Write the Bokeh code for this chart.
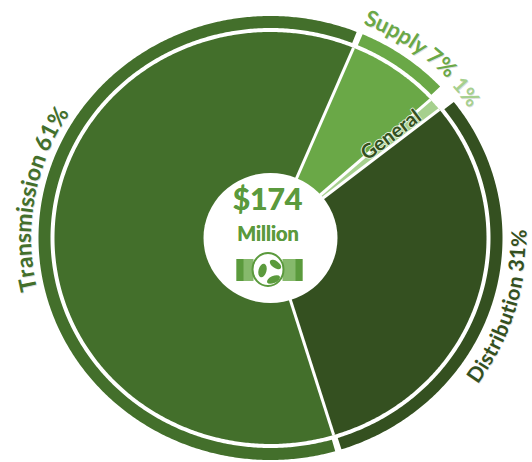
import math
from bokeh.core.properties import value
from bokeh.embed import file_html
from bokeh.models import ColumnDataSource
from bokeh.plotting import figure
from bokeh.resources import INLINE

# Budget split
segments = ["Transmission", "Supply", "General", "Distribution"]
shares = [61, 7, 1, 31]
fills = ["#436F2B", "#6AA847", "#A6D08E", "#345020"]
ring_segments = ["Transmission", "Supply", "Distribution"]
total_label = "$174"
unit_label = "Million"

CX, CY = 270, 237.5
RING_OUT = (232, 222)
RING_IN = (220, 210)
PIE = (216, 206)
HUB = (67, 65)
START = 163.0

FONT = "Lato"
WIDTHS = {"T": .58, "r": .39, "a": .52, "n": .57, "s": .43, "m": .84, "i": .26, "o": .58,
          " ": .22, "6": .58, "1": .58, "%": .82, "S": .52, "u": .57, "p": .57, "l": .26,
          "y": .52, "7": .58, "D": .73, "t": .37, "b": .57, "3": .58}
HUB_GREEN = "#5B9A3D"


def pt(t, rx, ry):
    a = math.radians(t)
    return CX + rx * math.sin(a), CY - ry * math.cos(a)


def band(a0, a1, outer, inner=None):
    n = max(3, int(abs(a1 - a0) * 2))
    ts = [a0 + (a1 - a0) * i / n for i in range(n + 1)]
    pts = [pt(t, *outer) for t in ts]
    if inner:
        pts += [pt(t, *inner) for t in reversed(ts)]
    else:
        pts.append((CX, CY))
    return [q[0] for q in pts], [q[1] for q in pts]


def lifted(x, y, ang, size):
    """Move a baseline point to the letter's mid-height, for middle-anchored text."""
    k = 0.36 * size
    return x - math.sin(ang) * k, y - math.cos(ang) * k


p = figure(width=532, height=462, x_range=(0, 532), y_range=(462, 0), toolbar_location=None,
           output_backend="svg", min_border=0, outline_line_color=None, background_fill_color="white")
p.axis.visible = False
p.grid.visible = False

# Pie wedges, outer ring and the white dividers between them
edges = {}
a = START
for name, share in zip(segments, shares):
    edges[name] = (a, a + share * 3.6)
    a += share * 3.6

pie_x, pie_y = [], []
for name in segments:
    x, y = band(*edges[name], PIE)
    pie_x.append(x)
    pie_y.append(y)
p.patches(pie_x, pie_y, fill_color=fills, line_color=None)

RING_GAP = 0.8
ring_x, ring_y, ring_c = [], [], []
for name in ring_segments:
    a0, a1 = edges[name]
    x, y = band(a0 + RING_GAP, a1 - RING_GAP, RING_OUT, RING_IN)
    ring_x.append(x)
    ring_y.append(y)
    ring_c.append(fills[segments.index(name)])
p.patches(ring_x, ring_y, fill_color=ring_c, line_color=None)

div_x, div_y = [], []
for name in segments:
    e = pt(edges[name][0], *PIE)
    div_x.append([CX, e[0]])
    div_y.append([CY, e[1]])
p.multi_line(div_x, div_y, line_color="white", line_width=3)
p.ellipse([CX], [CY], width=[HUB[0] * 2], height=[HUB[1] * 2], fill_color="white", line_color=None)


def arc_text(text, start, rx, ry, size, color, direction=1, spacing=1.0):
    """Lay a string out letter by letter along an ellipse."""
    t = start
    xs, ys, angs, chars = [], [], [], []
    for ch in text:
        w = WIDTHS[ch] * size * spacing
        a = math.radians(t)
        speed = math.hypot(rx * math.cos(a), ry * math.sin(a))
        mid = t + direction * math.degrees(w / 2 / speed)
        x, y = pt(mid, rx, ry)
        m = math.radians(mid)
        dx, dy = rx * math.cos(m) * direction, ry * math.sin(m) * direction
        ang = math.atan2(-dy, dx)
        x, y = lifted(x, y, ang, size)
        xs.append(x)
        ys.append(y)
        angs.append(ang)
        chars.append(ch)
        t += direction * math.degrees(w / speed)
    src = ColumnDataSource(dict(x=xs, y=ys, a=angs, t=chars))
    sh = ColumnDataSource(dict(x=[v + 0.7 for v in xs], y=[v + 1 for v in ys], a=angs, t=chars))
    for s, c, al in ((sh, "#7f7f7f", 0.25), (src, color, 1)):
        p.text("x", "y", text="t", angle="a", source=s, text_color=c, text_alpha=al,
               text_font=value(FONT), text_font_size=f"{size}px", text_font_style="bold",
               text_align="center", text_baseline="middle")


arc_text(f"{segments[0]} {shares[0]}%", 257, 240, 230, 23, fills[0])
arc_text(f"{segments[1]} {shares[1]}%", 22.3, 245, 232, 22, fills[1])
arc_text(f"{shares[2]}%", 48, 243, 228, 21, fills[2])
arc_text(f"{segments[3]} {shares[3]}%", 126, 255, 248, 21, fills[3], direction=-1, spacing=1.04)

# Label of the narrow wedge, with a pale halo
gx, gy = lifted(394, 139, math.radians(37), 20)
for ox, oy in ((-1, 0), (1, 0), (0, -1), (0, 1)):
    p.text([gx + ox], [gy + oy], text=[segments[2]], angle=[math.radians(37)], text_color="#dfeed6",
           text_font=value(FONT), text_font_size="20px", text_font_style="bold",
           text_align="center", text_baseline="middle")
p.text([gx], [gy], text=[segments[2]], angle=[math.radians(37)], text_color="#345020",
       text_font=value(FONT), text_font_size="20px", text_font_style="bold",
       text_align="center", text_baseline="middle")

# Hub captions, struck twice for extra weight
for ox in (-0.3, 0.3):
    p.text([267 + ox], [197.5], text=[total_label], text_color=HUB_GREEN, text_font=value(FONT),
           text_font_size="30px", text_font_style="bold", text_align="center", text_baseline="middle")
    p.text([267.5 + ox], [232.5], text=[unit_label], text_color=HUB_GREEN, text_font=value(FONT),
           text_font_size="20px", text_font_style="bold", text_align="center", text_baseline="middle")

# Valve pictogram
p.rect([244.5, 292], [269.5, 269.5], width=[17, 20], height=[22, 22], fill_color="#86B96C", line_color=None)
p.rect([239.5, 298.5], [269.5, 269.5], width=[7, 7], height=[22, 22], fill_color=HUB_GREEN, line_color=None)
p.ellipse([267.5], [269], width=[31], height=[33], fill_color="white", line_color=HUB_GREEN, line_width=2)
p.ellipse([262, 275, 273], [270, 264, 279], width=[14, 13, 14], height=[8, 7, 7],
          angle=[math.radians(75), math.radians(-35), math.radians(25)], fill_color=HUB_GREEN, line_color=None)

open("out.html", "w").write(file_html(p, INLINE))
